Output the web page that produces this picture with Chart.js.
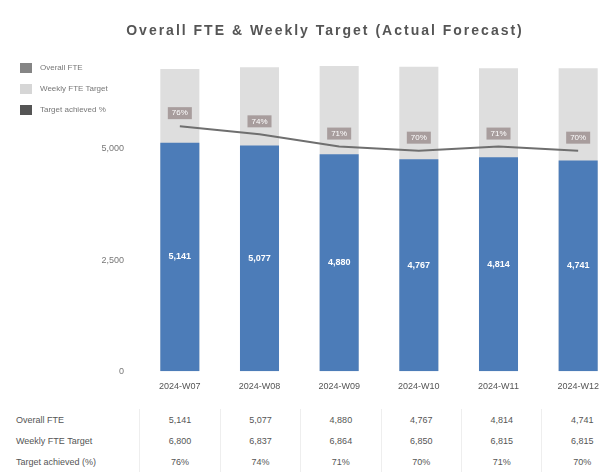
<!DOCTYPE html>
<html>
<head>
<meta charset="utf-8">
<script src="https://cdn.jsdelivr.net/npm/chart.js@4.4.0/dist/chart.umd.min.js"></script>
<style>
  body { margin: 0; background: #fff; overflow: hidden; font-family: "Liberation Sans", Arial, sans-serif; }
  #wrap { position: relative; width: 622px; height: 475px; }
  #chart { position: absolute; left: 0; top: 0; }
  .title { position: absolute; top: 22px; left: 75px; width: 500px; text-align: center; font-weight: bold; font-size: 14px; letter-spacing: 2px; color: #555; }
  .legend { position: absolute; left: 20px; top: 57px; font-size: 8px; color: #777; }
  .legend div { height: 21px; display: flex; align-items: center; }
  .legend span.box { width: 12px; height: 10px; display: inline-block; margin-right: 8px; }
  table { position: absolute; left: 0; top: 409px; border-collapse: collapse; font-size: 9px; color: #555; }
  td { height: 21px; padding: 0; text-align: center; border-left: 1px solid #eee; }
  td.head { width: 140px; text-align: left; padding-left: 16px; box-sizing: border-box; border-left: none; }
  td.val { width: 79.6px; }
</style>
</head>
<body>
<div id="wrap">
  <canvas id="chart" width="622" height="394"></canvas>
  <div class="title">Overall FTE &amp; Weekly Target (Actual Forecast)</div>
  <div class="legend">
    <div><span class="box" style="background:#858585"></span>Overall FTE</div>
    <div><span class="box" style="background:#d6d6d6"></span>Weekly FTE Target</div>
    <div><span class="box" style="background:#555"></span>Target achieved %</div>
  </div>
  <table id="tbl"></table>
</div>
<script>
// data
let weeks = ['2024-W07', '2024-W08', '2024-W09', '2024-W10', '2024-W11', '2024-W12']
let overallFte = [5141, 5077, 4880, 4767, 4814, 4741]
let weeklyTarget = [6800, 6837, 6864, 6850, 6815, 6815]
let achieved = [76, 74, 71, 70, 71, 70]
let yTicks = [0, 2500, 5000]

let fmt = (n) => n.toLocaleString('en-US')

// value labels, drawn by hand since only chart.js is available
const valueLabels = {
  id: 'valueLabels',
  afterDatasetsDraw(chart) {
    const ctx = chart.ctx
    ctx.save()
    ctx.textAlign = 'center'
    ctx.textBaseline = 'middle'
    // fte labels in the middle of the blue bars
    chart.getDatasetMeta(1).data.forEach((bar, i) => {
      ctx.font = 'bold 9px "Liberation Sans", Arial'
      ctx.fillStyle = '#fff'
      ctx.fillText(fmt(overallFte[i]), bar.x, (bar.y + bar.base) / 2)
    })
    // percent labels above the line points
    chart.getDatasetMeta(0).data.forEach((pt, i) => {
      const txt = achieved[i] + '%'
      ctx.font = '8px "Liberation Sans", Arial'
      const w = ctx.measureText(txt).width + 8
      ctx.fillStyle = 'rgba(150,135,135,0.75)'
      ctx.fillRect(pt.x - w / 2, pt.y - 19, w, 12)
      ctx.fillStyle = '#fff'
      ctx.fillText(txt, pt.x, pt.y - 13)
    })
    ctx.restore()
  }
}

const ctx = document.getElementById('chart').getContext('2d')
const chart = new Chart(ctx, {
  type: 'bar',
  data: {
    labels: weeks,
    datasets: [
      {
        type: 'line',
        label: 'Target achieved %',
        data: achieved,
        yAxisID: 'y1',
        borderColor: '#6f6f6f',
        borderWidth: 2,
        pointRadius: 0,
        tension: 0,
        order: 0
      },
      {
        label: 'Overall FTE',
        data: overallFte,
        backgroundColor: '#4c7cb8',
        grouped: false,
        order: 1
      },
      {
        label: 'Weekly FTE Target',
        data: weeklyTarget,
        backgroundColor: '#dedede',
        grouped: false,
        order: 2
      }
    ]
  },
  options: {
    responsive: false,
    animation: false,
    layout: { padding: { top: 60, right: 4, bottom: 0, left: 0 } },
    plugins: { legend: { display: false }, tooltip: { enabled: false } },
    datasets: { bar: { barPercentage: 0.49, categoryPercentage: 1 } },
    scales: {
      x: {
        grid: { display: false },
        border: { display: false },
        ticks: { color: '#555', font: { size: 9 }, padding: 2, maxRotation: 0 }
      },
      y: {
        min: 0,
        max: 7000,
        grid: { display: false },
        border: { display: false },
        afterBuildTicks: (axis) => { axis.ticks = yTicks.map(v => ({ value: v })) },
        afterFit: (axis) => { axis.width = 140 },
        ticks: { color: '#777', font: { size: 9 }, padding: 8, callback: (v) => fmt(v) }
      },
      y1: {
        display: false,
        min: 16,
        max: 92.2
      }
    }
  },
  plugins: [valueLabels]
})

// table under the chart
let rows = [
  ['Overall FTE', overallFte.map(fmt)],
  ['Weekly FTE Target', weeklyTarget.map(fmt)],
  ['Target achieved (%)', achieved.map(v => v + '%')]
]
let tbl = document.getElementById('tbl')
rows.forEach(([name, vals]) => {
  let tr = document.createElement('tr')
  tr.innerHTML = `<td class="head">${name}</td>` + vals.map(v => `<td class="val">${v}</td>`).join('')
  tbl.appendChild(tr)
})
</script>
</body>
</html>
